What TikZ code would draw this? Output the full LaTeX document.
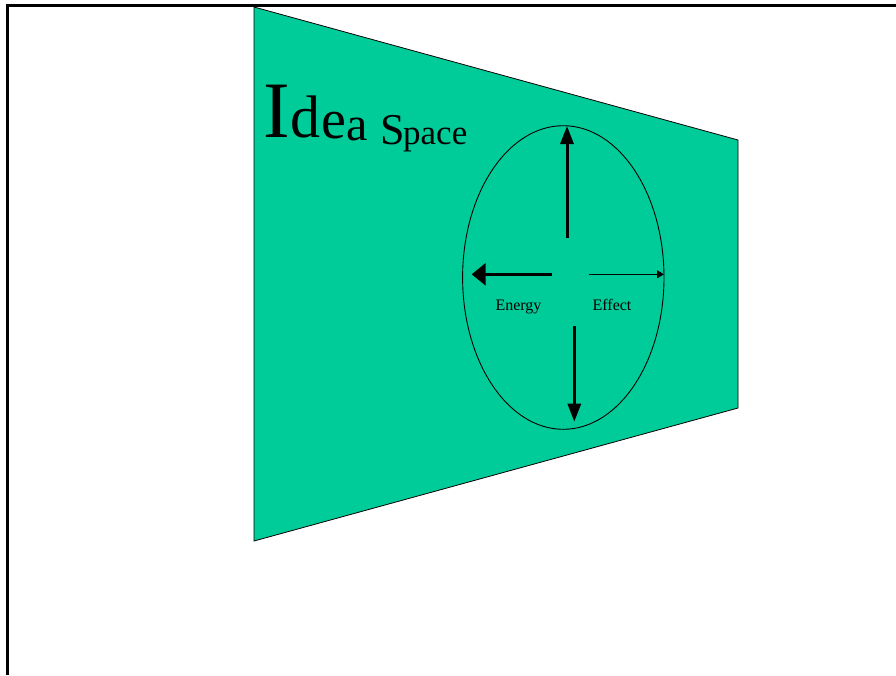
\documentclass[tikz,border=0pt]{standalone}
\usepackage{fontspec}
\setmainfont{Liberation Serif}
\usetikzlibrary{arrows.meta}
\definecolor{ideagreen}{RGB}{0,204,153}
\tikzset{
  thickarrow/.style={line width=3pt,-{Triangle[length=18pt,width=13pt]}},
  thinarrow/.style={line width=0.8pt,-{Triangle[length=7pt,width=8pt]}},
  lbl/.style={inner sep=0pt,anchor=base,font=\fontsize{16}{16}\selectfont},
  ttl/.style={inner sep=0pt,anchor=base west}
}
\begin{document}
\begin{tikzpicture}[x=1pt,y=-1pt]
\useasboundingbox (0,0) rectangle (896,675);
% frame
\draw[line width=3pt] (7.2,675) -- (7.2,5.5) -- (896,5.5);
% trapezoid
\draw[fill=ideagreen,line width=0.8pt] (254,7) -- (738,140) -- (738,408) -- (254,541) -- cycle;
% ellipse
\draw[line width=0.9pt] (563.3,277.5) ellipse [x radius=100.7, y radius=151.8];
% title
\node[ttl] (tI) at (263,137.3) {\fontsize{80}{80}\selectfont I};
\node[ttl] (td) at (290.3,137.3) {\fontsize{60}{60}\selectfont d};
\node[ttl] (te) at (321.5,138) {\fontsize{56}{56}\selectfont e};
\node[ttl] (ta) at (346,140.5) {\fontsize{48}{48}\selectfont a};
\node[ttl] (tS) at (380.5,144) {{\fontsize{44}{44}\selectfont S}\kern-2pt{\fontsize{35}{35}\selectfont pace}};
% arrows
\coordinate (ustart) at (567,238);
\coordinate (uend) at (567,126);
\coordinate (lstart) at (551.7,274.3);
\coordinate (lend) at (471.7,274.3);
\coordinate (rstart) at (589,274.3);
\coordinate (rend) at (664,274.3);
\coordinate (dstart) at (574.3,326);
\coordinate (dend) at (574.3,421.7);
\draw[thickarrow] (ustart) -- (uend);
\draw[line width=3pt,-{Triangle[length=14pt,width=22pt]}] (lstart) -- (lend);
\draw[thinarrow] (rstart) -- (rend);
\draw[thickarrow] (dstart) -- (dend);
% labels
\node[lbl] (energy) at (518.5,310.7) {Energy};
\node[lbl] (effect) at (612,310.7) {Effect};
\end{tikzpicture}
\end{document}
